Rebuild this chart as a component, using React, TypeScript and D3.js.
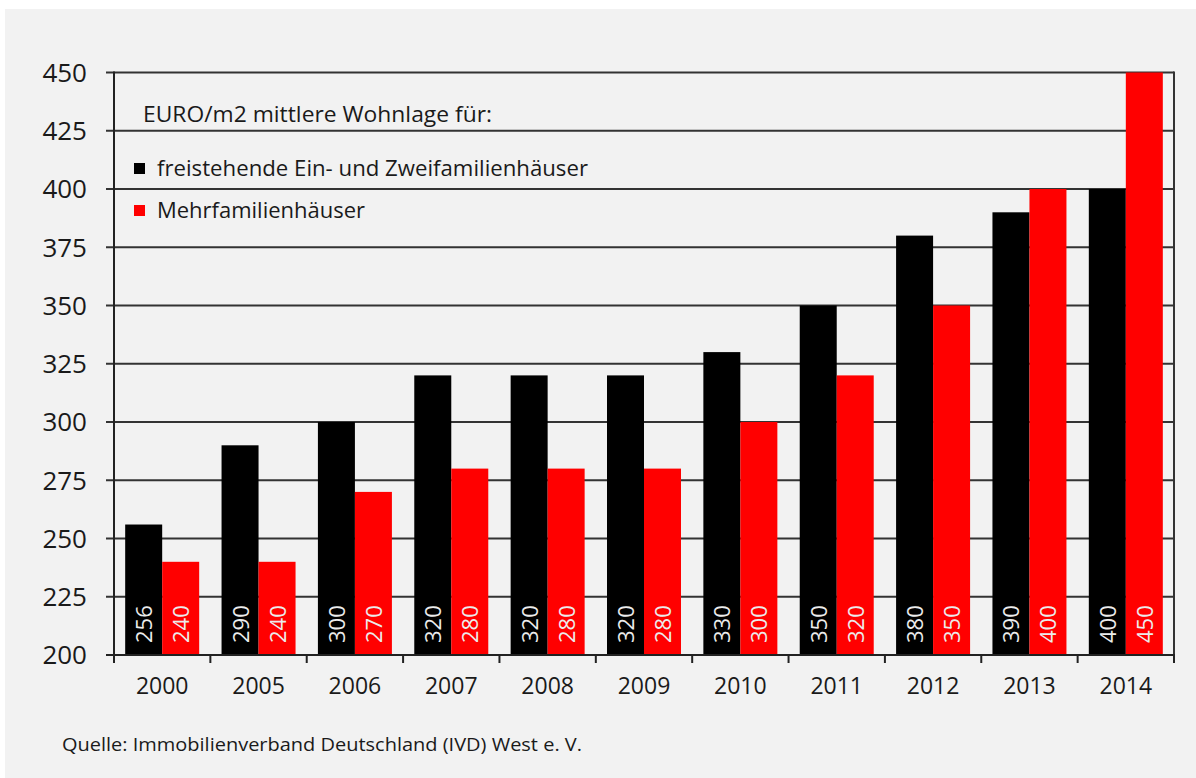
import React from "react";
import * as d3 from "d3";

const years = ["2000", "2005", "2006", "2007", "2008", "2009", "2010", "2011", "2012", "2013", "2014"];
const freistehend = [256, 290, 300, 320, 320, 320, 330, 350, 380, 390, 400];
const mehrfamilien = [240, 240, 270, 280, 280, 280, 300, 320, 350, 400, 450];
const yTicks = [200, 225, 250, 275, 300, 325, 350, 375, 400, 425, 450];
const legendTitle = "EURO/m2 mittlere Wohnlage für:";
const seriesNames = ["freistehende Ein- und Zweifamilienhäuser", "Mehrfamilienhäuser"];
const source = "Quelle: Immobilienverband Deutschland (IVD) West e. V.";

const W = 1196;
const H = 778;
const left = 114;
const right = 1174;
const top = 72.5;
const bottom = 655;
const FONT = "'Open Sans', 'Noto Sans', sans-serif";
const colors = ["#000000", "#ff0000"];

export default function App() {
  const x = d3.scaleBand<string>().domain(years).range([left, right]).padding(0);
  const y = d3.scaleLinear().domain([200, 450]).range([bottom, top]);
  const bw = 37;
  const bandEdges = [...years.map((yr) => x(yr)!), right];
  const series = [freistehend, mehrfamilien];

  return (
    <svg
      width={W}
      height={H}
      style={{ position: "absolute", left: 0, top: 0, display: "block", background: "#ffffff" }}
    >
      <rect x={5} y={9} width={W - 5} height={H - 9} fill="#f2f2f2" />
      {/* gridlines */}
      {yTicks.map((t) => (
        <line key={"g" + t} x1={left - 8} x2={right} y1={y(t)} y2={y(t)} stroke="#333" strokeWidth={2} />
      ))}
      {/* bars */}
      {years.map((yr, i) => {
        const start = x(yr)! + (x.bandwidth() - 2 * bw) / 2;
        return (
          <g key={yr}>
            {series.map((s, k) => {
              const bx = start + k * bw;
              const cx = bx + bw / 2;
              return (
                <g key={k}>
                  <rect x={bx} y={y(s[i])} width={bw} height={bottom - y(s[i])} fill={colors[k]} />
                  <text
                    transform={`translate(${cx + 8.5},${bottom - 12}) rotate(-90)`}
                    fontFamily={FONT}
                    fontSize={22}
                    fill="#ececec"
                  >
                    {s[i]}
                  </text>
                </g>
              );
            })}
          </g>
        );
      })}
      {/* frame */}
      <line x1={left} x2={left} y1={top - 1} y2={bottom + 1} stroke="#222" strokeWidth={2} />
      <line x1={right} x2={right} y1={top - 1} y2={bottom + 1} stroke="#333" strokeWidth={2} />
      <line x1={left - 8} x2={right + 1} y1={bottom} y2={bottom} stroke="#222" strokeWidth={2} />
      {bandEdges.map((e, i) => (
        <line key={"xt" + i} x1={e} x2={e} y1={bottom} y2={bottom + 8} stroke="#222" strokeWidth={2} />
      ))}
      {/* y labels */}
      {yTicks.map((t) => (
        <text
          key={"yl" + t}
          x={87}
          y={y(t)}
          dy="0.36em"
          textAnchor="end"
          fontFamily={FONT}
          fontSize={26}
          fill="#1a1a1a"
        >
          {t}
        </text>
      ))}
      {/* x labels */}
      {years.map((yr) => (
        <text
          key={"xl" + yr}
          x={x(yr)! + x.bandwidth() / 2}
          y={686}
          dy="0.36em"
          textAnchor="middle"
          fontFamily={FONT}
          fontSize={23}
          fill="#1a1a1a"
        >
          {yr}
        </text>
      ))}
      {/* legend */}
      <text x={143} y={122} fontFamily={FONT} fontSize={21} fill="#1a1a1a" textLength={349} lengthAdjust="spacingAndGlyphs">
        {legendTitle}
      </text>
      {seriesNames.map((n, k) => (
        <g key={n}>
          <rect x={134} y={163 + k * 42} width={11} height={11} fill={colors[k]} />
          <text
            x={157}
            y={176 + k * 42}
            fontFamily={FONT}
            fontSize={21}
            fill="#1a1a1a"
            textLength={k === 0 ? 431 : 208}
            lengthAdjust="spacingAndGlyphs"
          >
            {n}
          </text>
        </g>
      ))}
      {/* source */}
      <text x={62} y={751} fontFamily={FONT} fontSize={19} fill="#1a1a1a" textLength={520} lengthAdjust="spacingAndGlyphs">
        {source}
      </text>
    </svg>
  );
}
